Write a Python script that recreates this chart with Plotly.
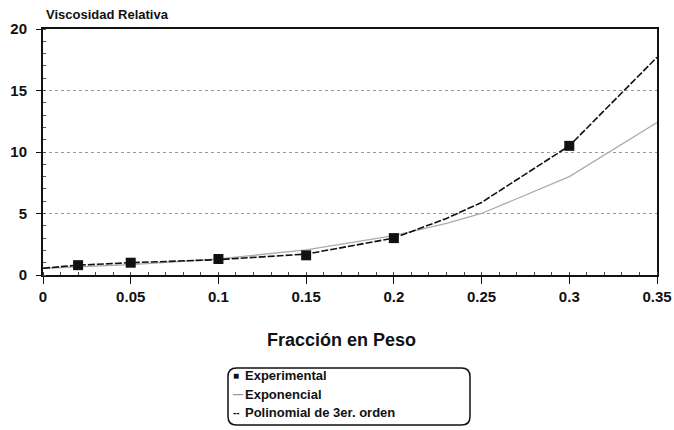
import plotly.graph_objects as go

exp_x = [0.02, 0.05, 0.10, 0.15, 0.20, 0.30]
exp_y = [0.8, 1.0, 1.3, 1.6, 3.0, 10.5]

fit_x = [0.0, 0.02, 0.05, 0.10, 0.15, 0.20, 0.23, 0.25, 0.30, 0.35]
expo_y = [0.55, 0.65, 0.85, 1.3, 2.05, 3.2, 4.2, 5.0, 8.0, 12.4]
poly_y = [0.55, 0.8, 1.0, 1.25, 1.7, 3.0, 4.6, 5.9, 10.5, 17.7]

x_ticks = [0, 0.05, 0.1, 0.15, 0.2, 0.25, 0.3, 0.35]
x_tick_labels = ["0", "0.05", "0.1", "0.15", "0.2", "0.25", "0.3", "0.35"]
y_ticks = [0, 5, 10, 15, 20]

legend_labels = ["Experimental", "Exponencial", "Polinomial de 3er. orden"]

FONT = "Liberation Sans, Arial, sans-serif"

fig = go.Figure()
fig.add_trace(go.Scatter(x=fit_x, y=expo_y, mode="lines", name=legend_labels[1],
                         line=dict(color="#ababab", width=1.3)))
fig.add_trace(go.Scatter(x=fit_x, y=poly_y, mode="lines", name=legend_labels[2],
                         line=dict(color="#111111", width=1.6, dash="7px,2px")))
fig.add_trace(go.Scatter(x=exp_x, y=exp_y, mode="markers", name=legend_labels[0],
                         marker=dict(symbol="square", size=10, color="#111111")))

fig.update_layout(
    width=674, height=430,
    margin=dict(l=43, r=17, t=29, b=155, autoexpand=False),
    paper_bgcolor="white", plot_bgcolor="white",
    font=dict(family=FONT, color="#111111"),
    showlegend=False,
    xaxis=dict(range=[0, 0.35], tickvals=x_ticks, ticktext=x_tick_labels,
               showgrid=False, zeroline=False, showline=True, linecolor="#111111",
               linewidth=1.5, mirror=True, ticks="outside", ticklen=7, tickcolor="#111111",
               tickfont=dict(size=15, family=FONT, weight="bold"),
               minor=dict(dtick=0.01, ticks="inside", ticklen=3, tickcolor="#444444", showgrid=False)),
    yaxis=dict(range=[0, 20], tickvals=y_ticks, showgrid=True, gridcolor="#9a9a9a",
               griddash="dot", gridwidth=1.2, zeroline=False, showline=True,
               linecolor="#111111", linewidth=2, mirror=True, ticks="outside", ticklen=5,
               tickcolor="#111111", ticklabelstandoff=6,
               tickfont=dict(size=15, family=FONT, weight="bold"),
               minor=dict(dtick=1, ticks="inside", ticklen=3, tickcolor="#555555", showgrid=False)),
)

def px_x(p):
    return (p - 43) / 614

def px_y(p):
    return (275 - p) / 246

ann = [
    dict(text="Viscosidad Relativa", xref="paper", yref="paper", x=0.002, y=1.02,
         xanchor="left", yanchor="bottom", showarrow=False,
         font=dict(size=13, family=FONT, weight="bold")),
    dict(text="Fracción en Peso", xref="paper", yref="paper", x=px_x(341), y=px_y(340),
         xanchor="center", yanchor="middle", showarrow=False,
         font=dict(size=18, family=FONT, weight="bold")),
]
symbols = ["■", "—", "--"]
symbol_colors = ["#111111", "#9a9a9a", "#111111"]
legend_y_px = [375, 394, 412]
for sym, col, lab, ypx in zip(symbols, symbol_colors, legend_labels, legend_y_px):
    ann.append(dict(text=sym, xref="paper", yref="paper", x=px_x(231), y=px_y(ypx),
                    xanchor="left", yanchor="middle", showarrow=False,
                    font=dict(size=10, family=FONT, weight="bold", color=col)))
    ann.append(dict(text=lab, xref="paper", yref="paper", x=px_x(243), y=px_y(ypx),
                    xanchor="left", yanchor="middle", showarrow=False,
                    font=dict(size=13, family=FONT, weight="bold")))
fig.update_layout(annotations=ann)

# rounded legend frame
x0, x1, y0, y1 = px_x(228), px_x(470), px_y(425), px_y(368)
rx, ry = 0.014, 0.035
path = (f"M {x0+rx},{y1} L {x1-rx},{y1} Q {x1},{y1} {x1},{y1-ry} "
        f"L {x1},{y0+ry} Q {x1},{y0} {x1-rx},{y0} L {x0+rx},{y0} "
        f"Q {x0},{y0} {x0},{y0+ry} L {x0},{y1-ry} Q {x0},{y1} {x0+rx},{y1} Z")
fig.add_shape(type="path", path=path, xref="paper", yref="paper",
              line=dict(color="#111111", width=1.5))

fig.write_html("out.html", config={"displayModeBar": False},
               post_script="document.body.style.margin='0';")
